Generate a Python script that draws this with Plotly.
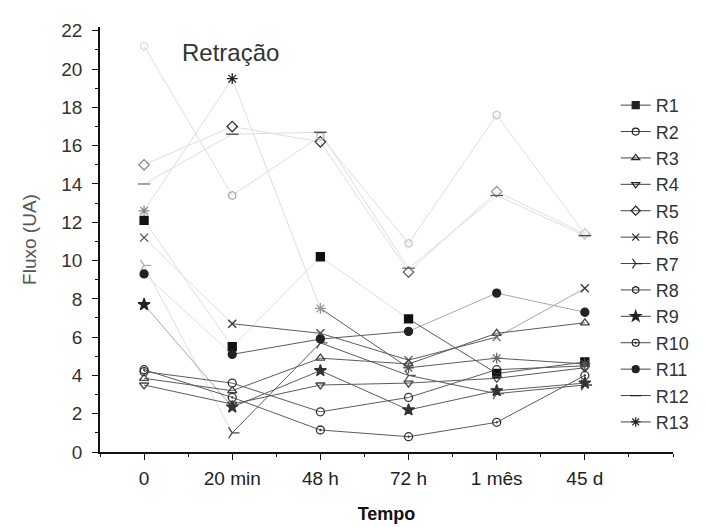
import plotly.graph_objects as go

categories = ["0", "20 min", "48 h", "72 h", "1 mês", "45 d"]

R1 = [12.1, 5.5, 10.2, 6.95, 4.1, 4.7]
R2 = [4.2, 3.6, 2.1, 2.85, 4.3, 4.5]
R3 = [3.85, 3.2, 4.9, 4.6, 6.2, 6.75]
R4 = [3.5, 2.5, 3.5, 3.6, 3.85, 4.4]
R5 = [15.0, 17.0, 16.2, 9.4, 13.6, 11.4]
R6 = [11.2, 6.7, 6.2, 4.8, 6.0, 8.55]
R7 = [9.75, 1.0, 5.7, 4.0, 3.05, 3.5]
R8 = [21.2, 13.4, 16.5, 10.9, 17.6, 11.4]
R9 = [7.7, 2.35, 4.25, 2.2, 3.2, 3.6]
R10 = [4.3, 2.85, 1.15, 0.8, 1.55, 4.0]
R11 = [9.3, 5.1, 5.9, 6.3, 8.3, 7.3]
R12 = [14.0, 16.6, 16.7, 9.6, 13.4, 11.3]
R13 = [12.6, 19.5, 7.5, 4.4, 4.9, 4.6]

names = ["R1", "R2", "R3", "R4", "R5", "R6", "R7", "R8", "R9", "R10", "R11", "R12", "R13"]
series = [R1, R2, R3, R4, R5, R6, R7, R8, R9, R10, R11, R12, R13]

symbols = ["square", "circle-open", "triangle-up-open", "triangle-down-open",
           "diamond-open", "x-thin-open", "y-right-open", "hexagon-open", "star",
           "circle-open-dot", "circle", "line-ew-open", "asterisk-open"]
sizes = [8, 8, 8, 8, 8, 8, 9, 8, 9, 8, 8, 9, 9]
# per point tone of the markers (the scan is faded in places)
marker_colors = [
    ["#111"] * 6,
    ["#333"] * 6,
    ["#444"] * 6,
    ["#444"] * 6,
    ["#888", "#333", "#333", "#666", "#999", "#bbb"],
    ["#555", "#333", "#444", "#444", "#666", "#333"],
    ["#aaa", "#444", "#555", "#555", "#555", "#444"],
    ["#ddd", "#aaa", "#bbb", "#c8c8c8", "#c8c8c8", "#ddd"],
    ["#222", "#333", "#333", "#333", "#333", "#333"],
    ["#333"] * 6,
    ["#222"] * 6,
    ["#777", "#444", "#444", "#666", "#555", "#444"],
    ["#888", "#222", "#999", "#555", "#666", "#555"],
]

FONT = "Liberation Sans, Arial, sans-serif"
xs = list(range(len(categories)))
tones = {"dark": "#5c5c5c", "mid": "#a8a8a8", "faint": "#dedede"}

fig = go.Figure()
# connecting lines, toned per segment like the faded scan
seg = {k: ([], []) for k in tones}
for ys in series:
    for i in range(len(xs) - 1):
        top = max(ys[i], ys[i + 1])
        k = "faint" if top > 9 else ("mid" if top > 7.5 else "dark")
        seg[k][0].extend([xs[i], xs[i + 1], None])
        seg[k][1].extend([ys[i], ys[i + 1], None])
for k in ["faint", "mid", "dark"]:
    fig.add_trace(go.Scatter(x=seg[k][0], y=seg[k][1], mode="lines", showlegend=False,
                             hoverinfo="skip", line=dict(color=tones[k], width=1)))
for i, (nm, ys) in enumerate(zip(names, series)):
    fig.add_trace(go.Scatter(
        x=xs, y=ys, mode="markers", name=nm, showlegend=False,
        marker=dict(symbol=symbols[i], size=sizes[i], color=marker_colors[i],
                    line=dict(color=marker_colors[i], width=1.3)),
    ))
for i, nm in enumerate(names):
    fig.add_trace(go.Scatter(
        x=[None], y=[None], mode="lines+markers", name=nm,
        line=dict(color="#444", width=1),
        marker=dict(symbol=symbols[i], size=sizes[i] - 1, color="#222",
                    line=dict(color="#222", width=1.2)),
    ))

fig.update_layout(
    width=699, height=519,
    margin=dict(l=92, r=27, t=17, b=75),
    plot_bgcolor="white", paper_bgcolor="white",
    font=dict(family=FONT, size=18, color="#222"),
    legend=dict(x=0.9, y=0.859, xanchor="left", yanchor="top",
                bgcolor="rgba(0,0,0,0)", font=dict(family=FONT, size=18, color="#333"),
                tracegroupgap=0, itemwidth=30),
    annotations=[dict(text="Retração", x=0.2276, y=0.941, xref="paper", yref="paper",
                      xanchor="center", yanchor="middle", showarrow=False,
                      font=dict(family=FONT, size=24, color="#333"))],
)
fig.update_xaxes(
    range=[-0.5, 6.0], tickmode="array", tickvals=xs, ticktext=categories,
    automargin=False,
    showline=True, linecolor="#111", linewidth=1.5, showgrid=False, zeroline=False,
    ticks="outside", ticklen=6, tickcolor="#111", tickwidth=1.3, ticklabelstandoff=2,
    minor=dict(dtick=0.5, tick0=-0.5, ticks="outside", ticklen=3, tickcolor="#111"),
    title=dict(text="<b>Tempo</b>", font=dict(family=FONT, size=18, color="#111"), standoff=20),
    tickfont=dict(family=FONT, size=19, color="#222"),
)
fig.update_yaxes(
    range=[0, 22.2], tickmode="linear", tick0=0, dtick=2,
    showline=True, linecolor="#111", linewidth=1.5, showgrid=False, zeroline=False,
    ticks="outside", ticklen=6, tickcolor="#111", tickwidth=1.3, ticklabelstandoff=6,
    minor=dict(dtick=1, ticks="outside", ticklen=3, tickcolor="#111"),
    title=dict(text="Fluxo (UA)", font=dict(family=FONT, size=19, color="#555"), standoff=20),
    tickfont=dict(family=FONT, size=19, color="#333"),
)

fig.write_html("out.html")
